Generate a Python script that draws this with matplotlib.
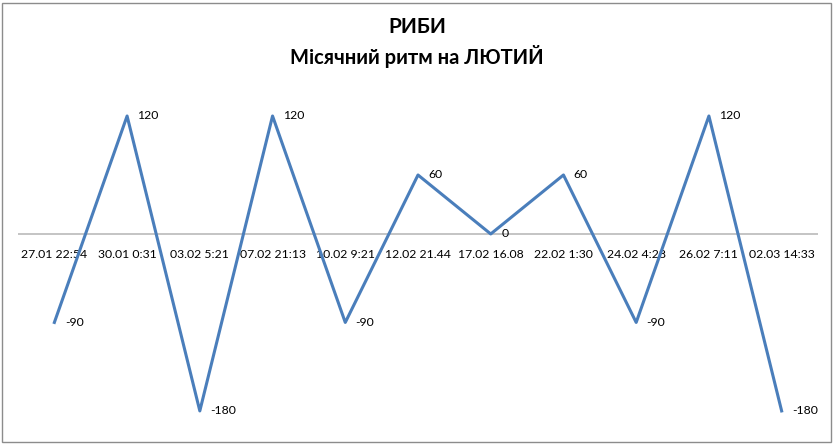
import matplotlib.pyplot as plt
from matplotlib.patches import Rectangle

# chart data
dates = ['27.01 22:54', '30.01 0:31', '03.02 5:21', '07.02 21:13', '10.02 9:21',
         '12.02 21.44', '17.02 16.08', '22.02 1:30', '24.02 4:28', '26.02 7:11',
         '02.03 14:33']
values = [-90, 120, -180, 120, -90, 60, 0, 60, -90, 120, -180]

plt.rcParams['font.family'] = ['Lato', 'DejaVu Sans']

fig = plt.figure(figsize=(8.34, 4.45), dpi=100)
ax = fig.add_axes([18 / 834, (445 - 430.6) / 445, 800 / 834, (430.6 - 86.5) / 445])

x = list(range(len(values)))
ax.axhline(0, color='#BFBFBF', linewidth=1.3, zorder=1)
ax.plot(x, values, color='#4A7EBB', linewidth=2.2, zorder=3)

for i, (d, v) in enumerate(zip(dates, values)):
    # category labels under the zero line
    ax.annotate(d, (i, 0), xytext=(0, -14.5), textcoords='offset points',
                ha='center', va='center', fontsize=8.8, color='black', zorder=2)
    # data labels to the right of points
    ax.annotate(str(v), (i, v), xytext=(7.5, 0), textcoords='offset points',
                ha='left', va='center', fontsize=8.8, color='black', zorder=4)

ax.set_xlim(-0.5, len(values) - 0.5)
ax.set_ylim(-200, 150)
ax.axis('off')

fig.text(0.5, 1 - 27 / 445, 'РИБИ', ha='center', va='center',
         fontsize=15, fontweight='bold')
fig.text(0.5, 1 - 57 / 445, 'Місячний ритм на ЛЮТИЙ', ha='center', va='center',
         fontsize=14.5, fontweight='bold')

# chart area border
fig.patches.append(Rectangle((2 / 834, 3 / 445), 829 / 834, 439 / 445,
                             transform=fig.transFigure, fill=False,
                             edgecolor='#8C8C8C', linewidth=1.0))

fig.savefig('out.png', dpi=100)
